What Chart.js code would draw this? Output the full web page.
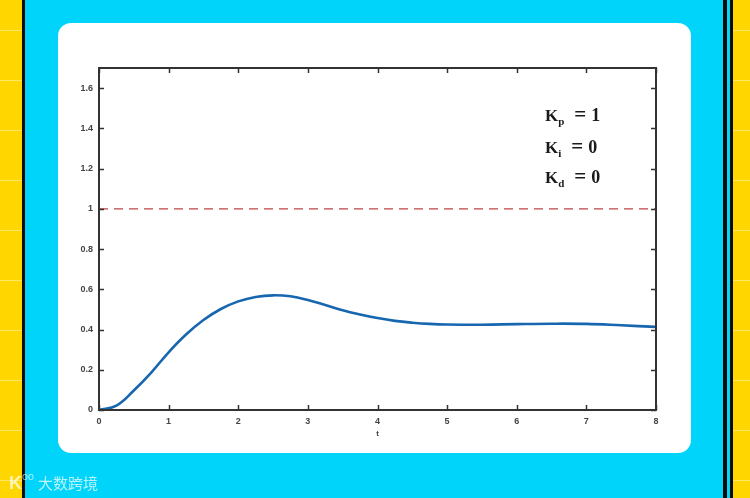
<!DOCTYPE html>
<html>
<head>
<meta charset="utf-8">
<script src="https://cdn.jsdelivr.net/npm/chart.js@4.4.1/dist/chart.umd.min.js"></script>
<style>
  html,body{margin:0;padding:0;width:750px;height:498px;overflow:hidden;}
  body{position:relative;background:#FFD600;font-family:"Liberation Sans",Arial,sans-serif;}
  .paper{position:absolute;top:0;bottom:0;background:repeating-linear-gradient(to bottom,transparent 0,transparent 30px,rgba(255,255,255,0.4) 30px,rgba(255,255,255,0.4) 31px,transparent 31px,transparent 50px);}
  .cyan{position:absolute;left:25px;top:0;width:708px;height:498px;background:#00D4FA;}
  .bl{position:absolute;top:0;height:498px;background:#0a0a0a;}
  .card{position:absolute;left:58px;top:23px;width:633px;height:430px;background:#fff;border-radius:13px;}
  canvas{position:absolute;left:0;top:0;z-index:2;}
  .ann{position:absolute;left:545px;z-index:3;font-family:"Liberation Serif","DejaVu Serif",serif;font-weight:bold;font-size:17px;color:#1a1a1a;line-height:1;white-space:nowrap;}
  .ann sub{font-size:11px;vertical-align:-4px;}
  .ann .eq{display:inline-block;font-size:21px;line-height:17px;margin:0 5px 0 10px;vertical-align:top;}
  .ann .n{font-size:18px;}
  .wm{position:absolute;left:9px;top:473px;z-index:3;color:rgba(255,255,255,0.72);font-family:"Noto Sans CJK SC",sans-serif;font-size:15px;line-height:1;white-space:nowrap;}
  .wm .k{font-family:"Liberation Sans",sans-serif;font-weight:bold;font-size:18px;}
  .wm .oo{font-size:8px;vertical-align:9px;margin-right:4px;}
</style>
</head>
<body>
<div class="paper" style="left:0;width:22px;"></div>
<div class="paper" style="left:733px;width:17px;"></div>
<div class="cyan"></div>
<div class="bl" style="left:22px;width:3px;"></div>
<div class="bl" style="left:723px;width:4px;"></div>
<div class="bl" style="left:730px;width:3px;"></div>
<div class="card"></div>
<canvas id="c" width="750" height="498"></canvas>
<div class="ann" style="top:106px;">K<sub>p</sub><span class="eq">=</span><span class="n">1</span></div>
<div class="ann" style="top:138px;">K<sub>i</sub><span class="eq">=</span><span class="n">0</span></div>
<div class="ann" style="top:168px;">K<sub>d</sub><span class="eq">=</span><span class="n">0</span></div>
<div class="wm"><span class="k">K</span><span class="oo">OO</span>大数跨境</div>
<script>
// ---- data ----
const timePoints = [0,0.25,0.5,0.75,1,1.25,1.5,1.75,2,2.25,2.5,2.75,3,3.25,3.5,3.75,4,4.25,4.5,4.75,5,5.5,6,6.5,7,7.5,8];
const response   = [0,0.022,0.097,0.186,0.287,0.375,0.447,0.502,0.54,0.562,0.57,0.565,0.547,0.522,0.496,0.475,0.457,0.443,0.434,0.428,0.425,0.424,0.427,0.429,0.428,0.421,0.413];
const referenceT = [0,8];
const referenceY = [1,1];
const xTicks = [0,1,2,3,4,5,6,7,8];
const yTicks = [0,0.2,0.4,0.6,0.8,1,1.2,1.4,1.6];
const yTickLabels = ['0','0.2','0.4','0.6','0.8','1','1.2','1.4','1.6'];
const xLabel = 't';

const AX = '#333333';
const innerTicks = {
  id:'innerTicks',
  afterDraw(chart){
    const {ctx, chartArea:a, scales} = chart;
    ctx.save();
    ctx.strokeStyle = AX; ctx.lineWidth = 2;
    ctx.strokeRect(a.left, a.top, a.right-a.left, a.bottom-a.top);
    ctx.lineWidth = 1.5;
    const L = 5;
    ctx.beginPath();
    xTicks.forEach(v=>{
      const x = Math.round(scales.x.getPixelForValue(v))+0.5;
      ctx.moveTo(x,a.bottom); ctx.lineTo(x,a.bottom-L);
      ctx.moveTo(x,a.top); ctx.lineTo(x,a.top+L);
    });
    yTicks.forEach(v=>{
      const y = Math.round(scales.y.getPixelForValue(v))+0.5;
      ctx.moveTo(a.left,y); ctx.lineTo(a.left+L,y);
      ctx.moveTo(a.right,y); ctx.lineTo(a.right-L,y);
    });
    ctx.stroke();
    ctx.restore();
  }
};

const tickFont = {family:'"Liberation Sans", Arial', size:9, weight:'bold'};
new Chart(document.getElementById('c'), {
  type:'line',
  data:{
    datasets:[
      {data: referenceT.map((t,i)=>({x:t,y:referenceY[i]})), borderColor:'#c04444', borderWidth:1.3, borderDash:[9,6], pointRadius:0, tension:0},
      {data: timePoints.map((t,i)=>({x:t,y:response[i]})), borderColor:'#1766b0', borderWidth:2.6, pointRadius:0, tension:0.4}
    ]
  },
  options:{
    responsive:false, animation:false,
    layout:{padding:{left:0,top:68,right:94,bottom:0}},
    plugins:{legend:{display:false}, tooltip:{enabled:false}},
    scales:{
      x:{type:'linear', min:0, max:8,
        afterBuildTicks(s){ s.ticks = xTicks.map(v=>({value:v})); },
        afterFit(s){ s.height = 88; },
        grid:{display:false, drawTicks:false},
        border:{display:false},
        ticks:{color:'#444', padding:6, font:tickFont},
        title:{display:true, text:xLabel, color:'#444', font:{family:'"Liberation Sans", Arial', size:8, weight:'bold'}, padding:{top:0,bottom:59}}
      },
      y:{type:'linear', min:0, max:1.7,
        afterBuildTicks(s){ s.ticks = yTicks.map(v=>({value:v})); },
        afterFit(s){ s.width = 99; },
        grid:{display:false, drawTicks:false},
        border:{display:false},
        ticks:{color:'#444', padding:6, font:tickFont,
          callback:(v)=>{ const i = yTicks.indexOf(v); return i>=0 ? yTickLabels[i] : ''; }}
      }
    }
  },
  plugins:[innerTicks]
});
</script>
</body>
</html>
